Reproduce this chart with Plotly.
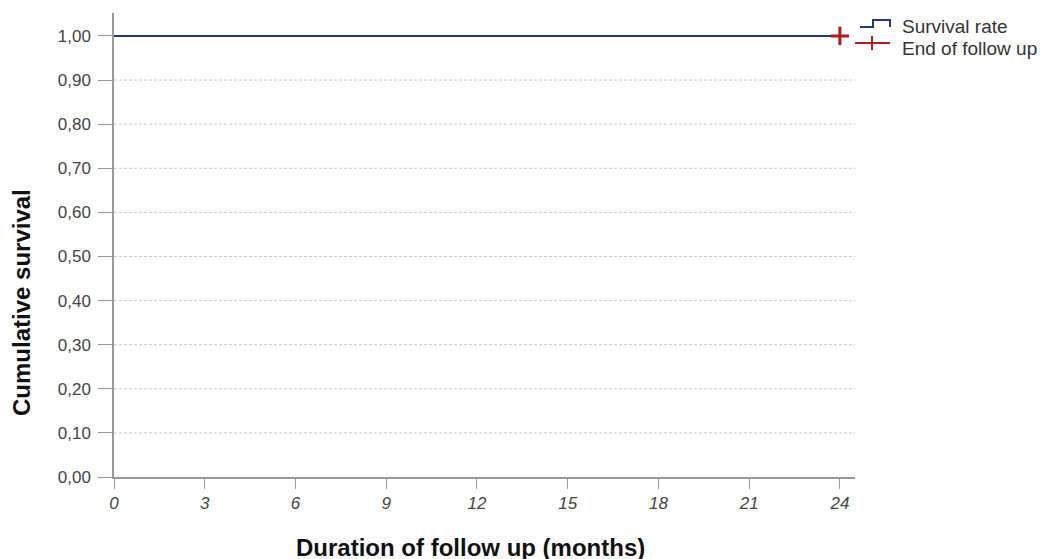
import plotly.graph_objects as go

months = [0, 24]
survival = [1.0, 1.0]
censor_months = [24]
censor_survival = [1.0]
x_ticks = [0, 3, 6, 9, 12, 15, 18, 21, 24]
y_ticks = [0.0, 0.1, 0.2, 0.3, 0.4, 0.5, 0.6, 0.7, 0.8, 0.9, 1.0]
y_labels = [f"{v:.2f}".replace(".", ",") for v in y_ticks]
legend_names = ["Survival rate", "End of follow up"]

W, H = 1052, 559
ML, MR, MT, MB = 106, 205, 5, 90
PW, PH = W - ML - MR, H - MT - MB
NAVY, RED = "#1f3a7a", "#b01c1c"


def px(x):
    return (x - ML) / PW


def py(y):
    return (H - MB - y) / PH


fig = go.Figure()
fig.add_trace(go.Scatter(x=months, y=survival, mode="lines", line=dict(color=NAVY, width=2, shape="hv"),
                         name=legend_names[0], showlegend=False))
fig.add_trace(go.Scatter(x=censor_months, y=censor_survival, mode="markers",
                         marker=dict(symbol="cross-thin", size=13, line=dict(color=RED, width=3), color=RED),
                         name=legend_names[1], cliponaxis=False, showlegend=False))

shapes = []
for v in y_ticks[1:-1]:
    shapes.append(dict(type="line", xref="paper", x0=0, x1=1, yref="y", y0=v, y1=v,
                       line=dict(color="#c8c8c8", width=1, dash="3px,2px"), layer="below"))

# legend icons (drawn manually: step glyph and censor cross)
step_pts = [(852, 19), (865, 19), (865, 12), (882, 12), (882, 19)]
path = "M " + " L ".join(f"{px(a)},{py(b)}" for a, b in step_pts)
shapes.append(dict(type="path", xref="paper", yref="paper", path=path, line=dict(color=NAVY, width=2)))
shapes.append(dict(type="line", xref="paper", yref="paper", x0=px(847), x1=px(882), y0=py(35), y1=py(35),
                   line=dict(color=RED, width=2)))
shapes.append(dict(type="line", xref="paper", yref="paper", x0=px(864), x1=px(864), y0=py(28), y1=py(42),
                   line=dict(color=RED, width=2)))

annotations = [
    dict(text=legend_names[0], xref="paper", yref="paper", x=px(892), y=py(19), xanchor="left", yanchor="middle",
         showarrow=False, font=dict(size=19, color="#333333")),
    dict(text=legend_names[1], xref="paper", yref="paper", x=px(892), y=py(40), xanchor="left", yanchor="middle",
         showarrow=False, font=dict(size=19, color="#333333")),
    dict(text="<b>Duration of follow up (months)</b>", xref="paper", yref="paper", x=px(462), y=py(539),
         xanchor="center", yanchor="middle", showarrow=False, font=dict(size=24, color="#111111")),
    dict(text="<b>Cumulative survival</b>", xref="paper", yref="paper", x=px(13), y=py(295), textangle=-90,
         xanchor="center", yanchor="middle", showarrow=False, font=dict(size=24, color="#111111")),
]

fig.update_layout(
    width=W, height=H,
    margin=dict(l=ML, r=MR, t=MT, b=MB, autoexpand=False),
    plot_bgcolor="white", paper_bgcolor="white",
    font=dict(family="Liberation Sans, Arial, sans-serif", color="#444444"),
    showlegend=False,
    shapes=shapes, annotations=annotations,
    xaxis=dict(range=[0, 24.5], tickvals=x_ticks, ticktext=[f"<i>{t}</i>" for t in x_ticks],
               showgrid=False, zeroline=False, showline=True, linecolor="#999999", linewidth=1.5,
               ticks="outside", ticklen=10, tickcolor="#999999", automargin=False,
               tickfont=dict(size=17, color="#444444")),
    yaxis=dict(range=[0, 1.052], tickvals=y_ticks, ticktext=y_labels,
               showgrid=False, zeroline=False, showline=True, linecolor="#999999", linewidth=1.5,
               ticks="outside", ticklen=14, tickcolor="#999999", automargin=False, ticklabelstandoff=4,
               tickfont=dict(size=17, color="#444444")),
)

fig.write_html("out.html")
